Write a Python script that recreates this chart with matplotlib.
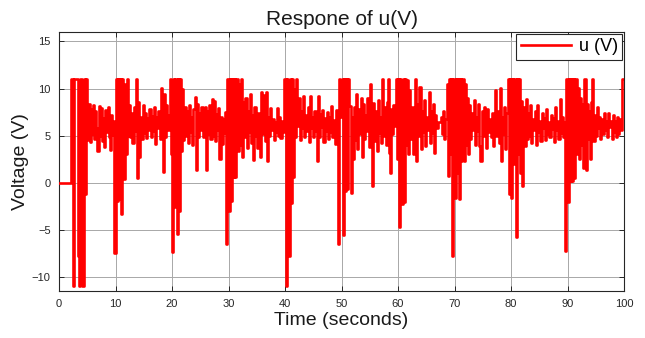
import numpy as np
import matplotlib
matplotlib.use("Agg")
import matplotlib.pyplot as plt

plt.rcParams['font.family'] = ['Liberation Sans', 'DejaVu Sans']

dt = 0.2  # sample interval (s)

u_00 = [0, 0, 0, 0, 0, 0, 0, 0, 0, 0,
        0, 11, -11, 11, 11, 11, 11, -7.8, -11, 11,
        -11, -11, 11, -1.2, 11, 4.5, 8.4, 4.3, 7.8, 5.2,
        8.2, 4.6, 7.6, 5.8, 3.4, 8.1, 5.0, 7.9, 4.4, 6.9,
        3.8, 7.7, 5.4, 8.0, 4.9, 3.5, 7.2, 5.1, 6.6, -7.5]
u_10 = [11, -1.9, 11, -1.7, 11, -3.3, 11, 0.4, 10.5, 3.0,
        11, 5.0, 8.3, 4.8, 7.4, 4.2, 8.0, 5.5, 11, 0.5,
        8.6, 2.7, 7.0, 4.6, 8.2, 5.3, 7.4, 4.7, 6.9, 5.6,
        7.8, 4.9, 7.1, 5.5, 8.0, 4.1, 7.0, 5.8, 7.6, 4.6,
        10.1, 5.2, 1.1, 9.4, 4.8, 8.3, 5.6, 7.2, 11, 3.0]
u_20 = [-7.4, 11, -2.6, 11, -5.5, 11, -3.0, 11, 3.4, 10.0,
        4.5, 8.0, 5.0, 7.6, 4.2, 8.2, 5.4, 7.0, 4.0, 7.8,
        9.1, 1.3, 8.4, 4.8, 7.4, 5.6, 8.0, 4.9, 7.2, 8.0,
        1.3, 7.6, 5.2, 8.2, 4.6, 8.9, 5.0, 8.7, 4.4, 7.3,
        5.6, 7.9, 2.5, 7.0, 4.1, 6.8, 5.3, 7.5, -6.5, 11]
u_30 = [-3.0, 11, -1.9, 11, 0.6, 11, 0.6, 11, 3.4, 10.5,
        4.0, 11, 2.7, 8.6, 4.8, 9.0, 3.7, 7.6, 5.4, 9.4,
        4.2, 7.2, 2.4, 8.0, 5.0, 3.7, 7.4, 4.6, 2.7, 9.6,
        5.2, 9.3, 4.4, 9.6, 2.3, 7.0, 5.0, 7.9, 5.6, 6.8,
        4.5, 6.4, 5.4, 7.9, 5.0, 7.0, 4.7, 6.5, 5.4, 11]
u_40 = [11, -11, 11, -7.8, 11, -2.2, 11, 0.6, 9.9, 4.8,
        11, 6.0, 9.0, 4.5, 7.6, 5.8, 9.2, 4.9, 7.2, 5.5,
        8.0, 4.3, 9.2, 5.8, 7.0, 4.8, 7.6, 5.5, 2.3, 9.2,
        4.9, 7.3, 5.9, 7.7, 4.3, 6.9, 5.5, 7.5, 4.6, 7.0,
        5.4, 8.1, 4.9, 6.7, 4.1, 7.7, 5.6, -6.5, 11, 7.0]
u_50 = [11, -5.6, 11, -0.9, 11, -0.7, 11, 8.1, -1.1, 7.0,
        2.5, 8.0, 4.5, 9.4, 3.6, 7.8, 5.2, 9.0, 2.7, 8.4,
        4.6, 7.2, 5.5, 9.0, 3.8, 10.5, 5.0, -0.4, 8.5, 4.4,
        7.6, 3.4, 8.8, 5.3, 7.0, 4.2, 11, 5.0, 8.0, 4.0,
        8.6, 11, 3.2, 1.0, 7.8, 5.2, 8.2, 6.0, 11, 2.5]
u_60 = [11, -4.7, 11, -2.3, 11, -2.1, 11, 4.0, 10.9, 3.0,
        9.8, 4.6, 8.0, 3.0, 7.4, 11, 2.3, 8.4, 5.0, 10.2,
        3.6, 7.6, 5.4, 8.8, 3.9, 7.0, 5.6, 9.6, 4.2, 7.6,
        5.3, 8.4, 3.2, 7.2, 5.8, 6.4, 6.4, 6.4, 7.0, 5.2,
        7.6, 4.6, 6.8, 10.5, 0.7, 11, 3.0, 11, -7.8, 11]
u_70 = [-1.6, 11, 1.0, 11, -1.7, 11, 2.3, 11, 2.3, 10.5,
        4.0, 9.0, 3.0, 8.2, 4.6, 7.4, 5.6, 8.8, 4.0, 7.0,
        5.5, 8.4, 3.9, 2.3, 7.6, 5.0, 8.0, 6.0, 3.7, 7.8,
        5.4, 6.8, 4.8, 7.4, 3.9, 7.2, 9.8, 5.0, 7.6, 4.2,
        10.1, 2.3, 7.0, 5.2, 8.0, 3.6, 7.4, 11, -1.2, 11]
u_80 = [-1.6, 11, 2.0, 11, -5.8, 11, 3.0, 11, 1.0, 8.7,
        -0.3, 8.0, 3.9, 8.9, 4.6, 7.4, 5.0, 8.2, 4.2, 6.8,
        5.6, 7.6, 4.0, 8.2, 5.4, 6.6, 4.4, 7.4, 5.8, 6.9,
        4.5, 7.8, 5.2, 6.4, 4.8, 7.2, 5.7, 6.9, 4.3, 8.0,
        5.6, 6.6, 4.6, 8.9, 5.3, 7.0, 4.8, 6.4, -7.3, 11]
u_90 = [-2.1, 11, 0.2, 11, 0.2, 11, 0.5, 11, 3.0, 10.1,
        2.5, 9.0, 4.0, 8.4, 1.6, 11, 1.3, 8.4, 4.6, 7.6,
        2.5, 8.6, 11, 4.4, 7.2, 5.0, 8.0, 5.8, 7.0, 4.6,
        6.8, 5.2, 7.4, 5.6, 6.6, 4.8, 7.4, 5.9, 6.5, 4.6,
        7.2, 5.4, 6.6, 4.8, 7.0, 5.2, 6.8, 5.6, 11, 11,
        11]

u = np.array(u_00 + u_10 + u_20 + u_30 + u_40 + u_50 + u_60 + u_70 + u_80 + u_90)
t = np.arange(len(u)) * dt

x_ticks = list(range(0, 101, 10))
y_ticks = [-10, -5, 0, 5, 10, 15]

fig = plt.figure(figsize=(6.45, 3.38), dpi=100)
ax = fig.add_axes([59/645, 1 - 291/338, (624-59)/645, (291-32)/338])

ax.plot(t, u, color='#ff0000', lw=1.9, drawstyle='steps-post', label='u (V)', zorder=3)

ax.set_xlim(0, 100)
ax.set_ylim(-11.5, 16)
ax.set_xticks(x_ticks)
ax.set_yticks(y_ticks)
ax.grid(True, color='#a8a8a8', lw=0.7)
ax.set_axisbelow(True)
ax.tick_params(direction='in', length=3.5, width=0.7, labelsize=8, colors='#262626',
               top=True, right=True, pad=6)
for s in ax.spines.values():
    s.set_color('#262626')
    s.set_linewidth(0.8)

ax.set_title('Respone of u(V)', fontsize=15, color='#1a1a1a', pad=5)
ax.set_xlabel('Time (seconds)', fontsize=14, color='#1a1a1a', labelpad=2)
ax.set_ylabel('Voltage (V)', fontsize=14, color='#1a1a1a', labelpad=2)

leg = ax.legend(loc='upper right', fontsize=13, frameon=True, fancybox=False,
                borderaxespad=0.1, handlelength=2.8, handletextpad=0.4,
                borderpad=0.25)
leg.get_frame().set_edgecolor('#262626')
leg.get_frame().set_linewidth(0.8)
leg.get_frame().set_alpha(1)

fig.savefig('out.png', dpi=100)
